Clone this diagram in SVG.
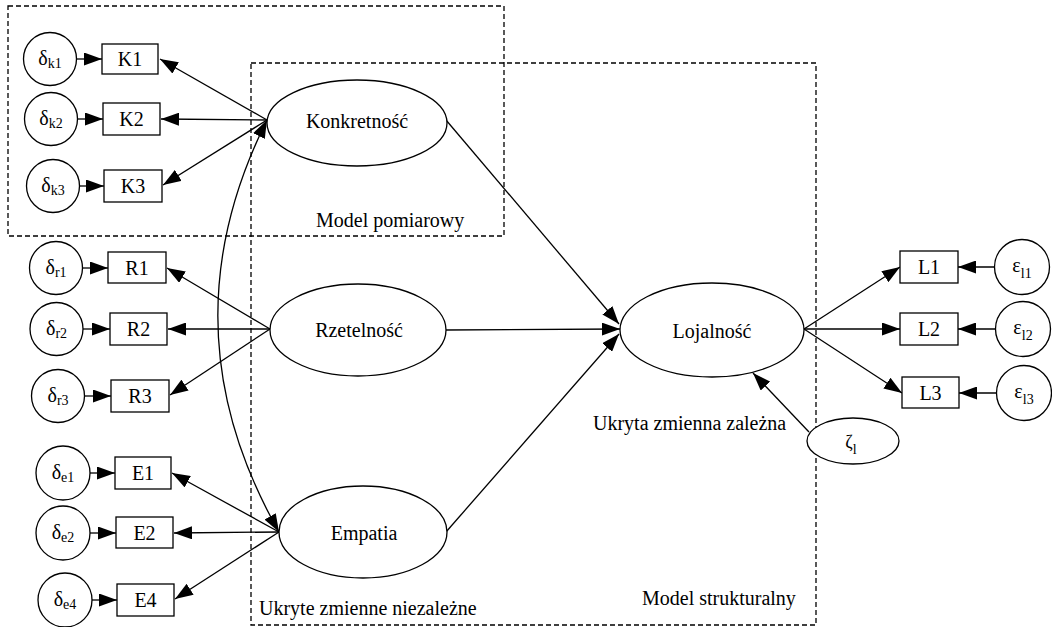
<svg xmlns="http://www.w3.org/2000/svg" width="1052" height="627" viewBox="0 0 1052 627">
<style>
text{font-family:"Liberation Serif","Times New Roman",serif;font-size:20px;fill:#000}
.n{text-anchor:middle}
.sub{font-size:14px}
.shape{fill:#fff;stroke:#000;stroke-width:1.3}
.box{fill:none;stroke:#000;stroke-width:1.3;stroke-dasharray:5,3}
.c line,.c path{stroke:#000;stroke-width:1.3;fill:none;marker-end:url(#ah)}
</style>
<defs>
<marker id="ah" viewBox="0 0 18 13" refX="18" refY="6.5" markerWidth="18" markerHeight="13" markerUnits="userSpaceOnUse" orient="auto-start-reverse">
<path d="M0,0 L18,6.5 L0,13 z" fill="#000"/>
</marker>
</defs>
<rect fill="#fff" width="1052" height="627"/>

<g id="frames">
<rect class="box" x="8" y="6" width="496" height="230"/>
<rect class="box" x="251" y="63" width="565" height="562"/>
<text x="316" y="227">Model pomiarowy</text>
<text x="259" y="615">Ukryte zmienne niezależne</text>
<text x="642" y="605">Model strukturalny</text>
<text x="593" y="430">Ukryta zmienna zależna</text>
</g>

<g class="c" id="connectors">
<line x1="77" y1="59" x2="102" y2="59"/>
<line x1="78" y1="119" x2="103" y2="119"/>
<line x1="80" y1="186" x2="104" y2="186"/>
<line x1="83" y1="268" x2="108" y2="268"/>
<line x1="83" y1="329" x2="110" y2="329"/>
<line x1="85" y1="396" x2="111" y2="396"/>
<line x1="90" y1="473" x2="115" y2="473"/>
<line x1="90" y1="533" x2="116" y2="533"/>
<line x1="92" y1="600" x2="117" y2="600"/>
<line x1="267" y1="120" x2="160" y2="59"/>
<line x1="267" y1="120" x2="161" y2="119"/>
<line x1="267" y1="120" x2="163" y2="185"/>
<line x1="270" y1="329" x2="167" y2="268"/>
<line x1="270" y1="329" x2="168" y2="329"/>
<line x1="270" y1="329" x2="170" y2="395"/>
<line x1="279" y1="532" x2="172" y2="473"/>
<line x1="279" y1="532" x2="174" y2="533"/>
<line x1="279" y1="532" x2="175" y2="599"/>
<path d="M267,120 Q163,328 279,532" marker-start="url(#ah)"/>
<line x1="446" y1="120" x2="619" y2="324"/>
<line x1="446" y1="330" x2="620" y2="329"/>
<line x1="446" y1="532" x2="619" y2="334"/>
<line x1="804" y1="329" x2="900" y2="267"/>
<line x1="804" y1="329" x2="900" y2="329"/>
<line x1="804" y1="329" x2="902" y2="393"/>
<line x1="994" y1="267" x2="958" y2="267"/>
<line x1="995" y1="329" x2="958" y2="329"/>
<line x1="997" y1="393" x2="959" y2="393"/>
<line x1="809" y1="432" x2="753" y2="373"/>
</g>

<g id="dk1"><circle class="shape" cx="50" cy="59" r="26.5"/><text class="n" x="50" y="65">δ<tspan class="sub" dy="3">k1</tspan></text></g>
<g id="dk2"><circle class="shape" cx="51" cy="119" r="26.5"/><text class="n" x="51" y="125">δ<tspan class="sub" dy="3">k2</tspan></text></g>
<g id="dk3"><circle class="shape" cx="53" cy="186" r="26.5"/><text class="n" x="53" y="192">δ<tspan class="sub" dy="3">k3</tspan></text></g>
<g id="dr1"><circle class="shape" cx="56" cy="268" r="26.5"/><text class="n" x="56" y="274">δ<tspan class="sub" dy="3">r1</tspan></text></g>
<g id="dr2"><circle class="shape" cx="56.5" cy="329" r="26.5"/><text class="n" x="56.5" y="335">δ<tspan class="sub" dy="3">r2</tspan></text></g>
<g id="dr3"><circle class="shape" cx="58" cy="396" r="26.5"/><text class="n" x="58" y="402">δ<tspan class="sub" dy="3">r3</tspan></text></g>
<g id="de1"><circle class="shape" cx="63" cy="473" r="27"/><text class="n" x="63" y="479">δ<tspan class="sub" dy="3">e1</tspan></text></g>
<g id="de2"><circle class="shape" cx="63" cy="533" r="27"/><text class="n" x="63" y="539">δ<tspan class="sub" dy="3">e2</tspan></text></g>
<g id="de4"><circle class="shape" cx="65" cy="600" r="27"/><text class="n" x="65" y="606">δ<tspan class="sub" dy="3">e4</tspan></text></g>

<g id="K1"><rect class="shape" x="102" y="44" width="56" height="30"/><text class="n" x="130" y="66">K1</text></g>
<g id="K2"><rect class="shape" x="103" y="103" width="57" height="32"/><text class="n" x="131.5" y="126">K2</text></g>
<g id="K3"><rect class="shape" x="104" y="170" width="58" height="32"/><text class="n" x="133" y="193">K3</text></g>
<g id="R1"><rect class="shape" x="108" y="252" width="58" height="31"/><text class="n" x="137" y="275">R1</text></g>
<g id="R2"><rect class="shape" x="110" y="313" width="57" height="32"/><text class="n" x="138.5" y="336">R2</text></g>
<g id="R3"><rect class="shape" x="111" y="380" width="58" height="32"/><text class="n" x="140" y="403">R3</text></g>
<g id="E1"><rect class="shape" x="115" y="457" width="56" height="32"/><text class="n" x="143" y="480">E1</text></g>
<g id="E2"><rect class="shape" x="116" y="517" width="57" height="31"/><text class="n" x="144.5" y="540">E2</text></g>
<g id="E4"><rect class="shape" x="117" y="584" width="57" height="32"/><text class="n" x="145.5" y="607">E4</text></g>

<g id="Konkretnosc"><ellipse class="shape" cx="357" cy="123" rx="90" ry="43"/><text class="n" x="357" y="128">Konkretność</text></g>
<g id="Rzetelnosc"><ellipse class="shape" cx="358" cy="330" rx="88" ry="46"/><text class="n" x="359" y="337">Rzetelność</text></g>
<g id="Empatia"><ellipse class="shape" cx="363" cy="532" rx="84" ry="46"/><text class="n" x="364" y="540">Empatia</text></g>
<g id="Lojalnosc"><ellipse class="shape" cx="712" cy="330" rx="92" ry="47"/><text class="n" x="712" y="338">Lojalność</text></g>
<g id="zeta"><ellipse class="shape" cx="853" cy="441" rx="46" ry="23"/><text class="n" x="851" y="448" style="font-size:18px">ζ<tspan class="sub" dy="6">l</tspan></text></g>

<g id="L1"><rect class="shape" x="900" y="251" width="58" height="32"/><text class="n" x="929" y="274">L1</text></g>
<g id="L2"><rect class="shape" x="900" y="313" width="58" height="32"/><text class="n" x="929" y="336">L2</text></g>
<g id="L3"><rect class="shape" x="902" y="377" width="57" height="31"/><text class="n" x="930.5" y="400">L3</text></g>
<g id="e11"><circle class="shape" cx="1022" cy="267" r="27.5"/><text class="n" x="1022" y="272">ε<tspan class="sub" dy="6">l1</tspan></text></g>
<g id="e12"><circle class="shape" cx="1023" cy="329" r="27.5"/><text class="n" x="1023" y="334">ε<tspan class="sub" dy="6">l2</tspan></text></g>
<g id="e13"><circle class="shape" cx="1024" cy="393" r="27.5"/><text class="n" x="1024" y="398">ε<tspan class="sub" dy="6">l3</tspan></text></g>
</svg>
